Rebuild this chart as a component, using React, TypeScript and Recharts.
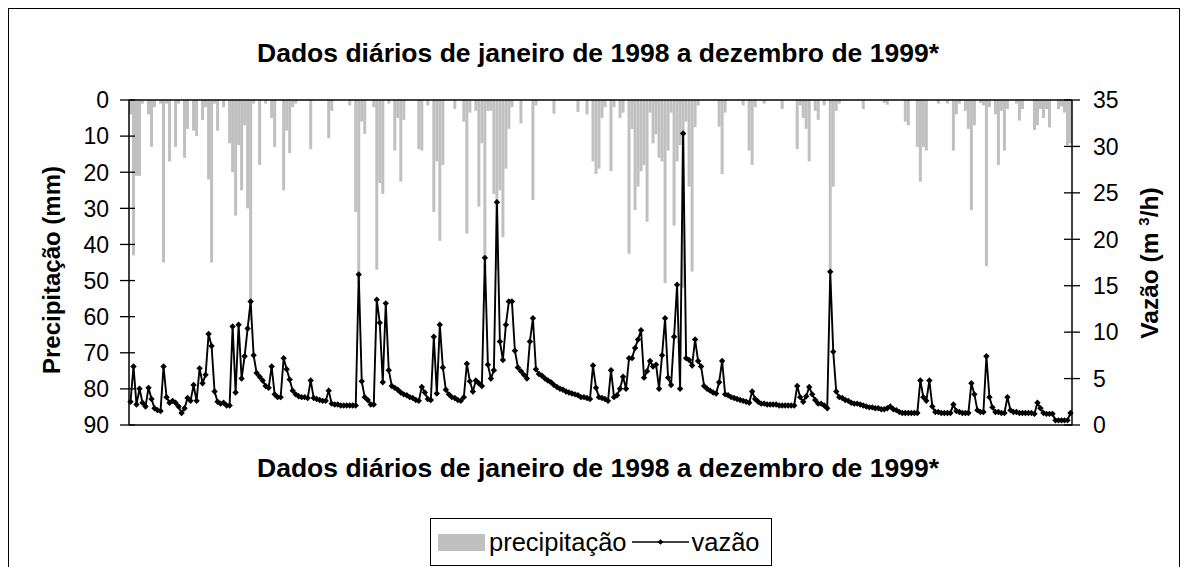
import { Bar, ComposedChart, Line, ReferenceLine, XAxis, YAxis } from "recharts";

// vazão (m3/h), one reading per slot left to right
const vazao = [
  2.5, 6.3, 2.2, 3.9, 2.4, 2.0, 4.0, 2.8, 1.8, 1.6,
  1.5, 6.3, 3.0, 2.4, 2.6, 2.4, 2.0, 1.3, 1.8, 2.9,
  2.6, 4.3, 2.6, 6.1, 4.5, 5.4, 9.8, 8.5, 3.6, 2.5,
  2.3, 2.4, 2.1, 2.1, 10.6, 3.5, 10.8, 5.0, 7.4, 10.4,
  13.3, 7.5, 5.6, 5.2, 4.8, 4.2, 4.0, 6.3, 3.3, 3.0,
  3.0, 7.2, 6.0, 4.9, 3.7, 3.3, 3.1, 3.0, 3.0, 2.9,
  4.8, 2.9, 2.8, 2.7, 2.6, 2.6, 3.7, 2.3, 2.2, 2.2,
  2.1, 2.1, 2.1, 2.1, 2.1, 2.1, 16.2, 4.7, 3.0, 2.7,
  2.2, 2.2, 13.5, 11.0, 4.6, 13.1, 5.9, 4.2, 4.0, 3.8,
  3.5, 3.3, 3.2, 3.0, 2.9, 2.7, 2.6, 4.1, 3.5, 2.8,
  2.7, 9.5, 3.4, 10.8, 6.2, 3.8, 3.3, 3.0, 2.9, 2.7,
  2.6, 3.0, 6.6, 4.7, 3.6, 4.8, 4.5, 4.2, 18.0, 6.5,
  5.0, 5.9, 24.0, 9.0, 7.0, 10.8, 13.3, 13.3, 8.0, 6.2,
  5.8, 5.4, 5.0, 9.0, 11.5, 6.0, 5.5, 5.3, 5.0, 4.8,
  4.6, 4.3, 4.1, 3.9, 3.8, 3.6, 3.5, 3.4, 3.3, 3.2,
  3.0, 3.0, 2.9, 2.8, 6.4, 4.0, 3.0, 2.9, 2.8, 2.6,
  5.9, 3.0, 3.2, 3.9, 5.2, 3.9, 7.2, 7.2, 8.3, 9.2,
  10.2, 5.1, 5.8, 6.9, 6.3, 6.5, 3.9, 7.5, 11.5, 5.1,
  4.3, 9.5, 15.1, 3.9, 31.4, 7.2, 7.0, 6.4, 9.2, 6.9,
  6.3, 4.2, 3.9, 3.7, 3.5, 3.4, 4.6, 6.9, 3.3, 3.2,
  3.0, 2.9, 2.8, 2.7, 2.6, 2.5, 2.4, 3.6, 2.8, 2.5,
  2.3, 2.3, 2.2, 2.2, 2.2, 2.2, 2.1, 2.1, 2.1, 2.1,
  2.1, 2.1, 4.2, 3.0, 2.5, 3.1, 4.1, 3.3, 2.7, 2.3,
  2.3, 2.1, 1.8, 16.5, 7.9, 3.6, 3.0, 2.9, 2.7, 2.6,
  2.4, 2.3, 2.3, 2.2, 2.1, 2.0, 1.9, 1.9, 1.8, 1.8,
  1.7, 1.7, 1.8, 2.0, 1.7, 1.6, 1.4, 1.3, 1.3, 1.3,
  1.3, 1.3, 1.3, 4.8, 3.0, 2.6, 4.8, 2.0, 1.4, 1.4,
  1.3, 1.3, 1.3, 1.3, 2.2, 1.5, 1.4, 1.3, 1.3, 1.3,
  4.5, 3.3, 1.6, 1.4, 1.4, 7.4, 3.0, 1.9, 1.4, 1.4,
  1.3, 1.3, 3.0, 1.6, 1.4, 1.4, 1.3, 1.3, 1.3, 1.3,
  1.3, 1.2, 2.4, 1.8, 1.3, 1.2, 1.2, 1.2, 0.5, 0.5,
  0.5, 0.5, 0.5, 1.3,
];

// precipitação (mm): [slot, mm] for the slots with rain, the rest are dry
const chuva: [number, number][] = [
  [0, 4], [1, 43], [2, 21], [3, 21], [4, 1], [6, 4], [7, 13], [8, 2], [10, 1], [11, 45],
  [12, 1], [13, 17], [15, 13], [16, 1], [18, 16], [19, 8], [21, 8.5], [22, 10], [24, 5.5], [25, 2],
  [26, 22], [27, 45], [28, 1], [29, 8.5], [31, 2], [33, 12], [34, 20], [35, 32], [36, 12.5], [37, 25],
  [38, 7], [39, 30], [40, 61], [41, 1], [43, 18], [45, 1], [47, 5], [48, 13],
  [51, 25], [52, 8.5], [53, 14.7], [54, 2], [55, 1], [60, 13.6], [66, 10.6], [67, 3], [73, 1.5],
  [75, 31], [76, 51], [77, 6], [78, 9.4], [81, 2], [82, 47], [83, 23], [84, 26], [86, 1],
  [88, 14], [89, 5], [90, 22.6], [91, 5.5], [96, 13.6], [97, 14], [99, 1.5],
  [101, 31], [102, 17], [103, 39], [104, 18], [108, 2.5], [111, 6], [112, 37], [113, 3.5], [115, 3],
  [116, 29.5], [117, 12], [118, 46.6], [119, 3], [120, 3], [121, 26], [122, 47], [123, 25], [124, 38],
  [125, 19], [126, 8], [127, 2], [130, 6.5], [134, 27.7], [135, 1.5], [141, 3.8], [149, 3.3], [152, 4],
  [154, 17], [155, 20.5], [156, 19], [157, 5], [158, 2], [160, 19.7], [161, 2], [163, 5], [164, 3.5],
  [166, 42.6], [167, 8], [168, 30.5], [169, 24], [170, 19.7], [171, 18], [172, 33.7], [173, 3.5],
  [174, 12], [175, 9.5], [176, 16], [177, 17], [178, 50.7], [179, 14], [180, 3.5], [181, 34.8],
  [182, 17], [183, 12.5], [184, 52], [185, 6], [186, 24], [187, 47.5], [188, 7.5], [189, 1.5],
  [196, 7.4], [197, 20.5], [198, 3.5], [204, 1.5],
  [206, 14], [207, 18], [208, 2], [211, 1], [217, 2.5], [222, 13.6], [223, 1.5], [224, 5], [225, 8],
  [226, 17], [228, 3], [229, 5.5], [231, 1.5], [233, 47], [234, 24], [235, 3], [236, 1], [244, 2.5],
  [251, 0.8], [252, 1.3],
  [258, 6], [259, 7], [262, 13], [263, 22.6], [264, 13], [265, 14], [269, 1], [272, 1], [274, 14],
  [275, 4], [276, 1], [278, 3], [279, 8], [280, 30.5], [281, 7], [283, 0.8], [284, 1.5], [285, 46],
  [286, 2], [288, 4], [289, 18], [290, 3], [291, 14], [292, 2.5], [295, 1], [296, 5.7], [297, 2.5],
  [301, 8.3], [302, 7], [303, 2.5], [304, 5], [305, 2.5], [306, 7.6], [309, 2.5], [310, 1.8],
  [311, 3.5], [312, 12.5], [313, 12],
];

const precipTicks = [0, 10, 20, 30, 40, 50, 60, 70, 80, 90];
const vazaoTicks = [0, 5, 10, 15, 20, 25, 30, 35];
const titulo = "Dados diários de janeiro de 1998 a dezembro de 1999*";

const chartData = vazao.map((v, i) => ({ dia: i, vazao: v, precipitacao: 0 }));
chuva.forEach(([d, mm]) => {
  chartData[d].precipitacao = mm;
});

const FONT = "'Liberation Sans', Arial, Helvetica, sans-serif";
const W = 1172;
const H = 559;
const LEFT_X = 121; // eixo esquerdo, em coordenadas do gráfico
const RIGHT_X = 1064;

function LeftTick(props: any) {
  const { y, payload } = props;
  return (
    <g>
      <line x1={LEFT_X - 9} x2={LEFT_X + 6} y1={y} y2={y} stroke="#000" strokeWidth={1.3} />
      <text x={LEFT_X - 20} y={y} dy="0.36em" textAnchor="end" fontSize={23} fontFamily={FONT} fill="#000">
        {payload.value}
      </text>
    </g>
  );
}

function RightTick(props: any) {
  const { y, payload } = props;
  return (
    <g>
      <line x1={RIGHT_X - 8} x2={RIGHT_X + 8} y1={y} y2={y} stroke="#000" strokeWidth={1.3} />
      <text x={RIGHT_X + 21} y={y} dy="0.36em" textAnchor="start" fontSize={23} fontFamily={FONT} fill="#000">
        {payload.value}
      </text>
    </g>
  );
}

function Diamond(props: any) {
  const { cx, cy, index } = props;
  if (cx == null || cy == null) return <g key={`d-${index}`} />;
  const r = 3.2;
  return (
    <path
      key={`d-${index}`}
      d={`M${cx},${cy - r}L${cx + r},${cy}L${cx},${cy + r}L${cx - r},${cy}Z`}
      fill="#000"
    />
  );
}

const textBold = {
  position: "absolute" as const,
  fontFamily: FONT,
  fontWeight: 700,
  color: "#000",
  whiteSpace: "nowrap" as const,
  textAlign: "center" as const,
};

export default function App() {
  return (
    <div style={{ position: "relative", width: W, height: H, overflow: "hidden", fontFamily: FONT }}>
      <div
        style={{
          position: "absolute",
          left: 0,
          top: 0,
          width: W - 2,
          height: H + 40,
          border: "1px solid #000",
        }}
      />

      <div style={{ ...textBold, left: 190, top: 30, width: 800, height: 30, lineHeight: "30px", fontSize: 26.5 }}>
        {titulo}
      </div>

      <div
        style={{
          ...textBold,
          left: 44 - 150,
          top: 262 - 15,
          width: 300,
          height: 30,
          lineHeight: "30px",
          fontSize: 24,
          transform: "rotate(-90deg)",
        }}
      >
        Precipitação (mm)
      </div>

      <div
        style={{
          ...textBold,
          left: 1142 - 150,
          top: 255 - 15,
          width: 300,
          height: 30,
          lineHeight: "30px",
          fontSize: 24.5,
          transform: "rotate(-90deg)",
        }}
      >
        Vazão (m <sup style={{ fontSize: 15, verticalAlign: "9px", lineHeight: 0 }}>3</sup>/h)
      </div>

      <div style={{ position: "absolute", left: 0, top: 0 }}>
        <ComposedChart
          width={W}
          height={H}
          data={chartData}
          margin={{ top: 92, right: 0, bottom: 142, left: 0 }}
          barCategoryGap={0}
          barGap={0}
        >
          <XAxis dataKey="dia" hide />
          <YAxis
            yAxisId="left"
            orientation="left"
            width={LEFT_X}
            domain={[0, 90]}
            ticks={precipTicks}
            reversed
            interval={0}
            tickLine={false}
            axisLine={{ stroke: "#000", strokeWidth: 1.5 }}
            tick={<LeftTick />}
          />
          <YAxis
            yAxisId="right"
            orientation="right"
            width={W - RIGHT_X}
            domain={[0, 35]}
            ticks={vazaoTicks}
            interval={0}
            tickLine={false}
            axisLine={{ stroke: "#000", strokeWidth: 1.5 }}
            tick={<RightTick />}
          />
          <Bar
            yAxisId="left"
            dataKey="precipitacao"
            name="precipitação"
            fill="#c0c0c0"
            isAnimationActive={false}
          />
          <ReferenceLine yAxisId="left" y={0} stroke="#000" strokeWidth={1.5} />
          <ReferenceLine yAxisId="left" y={90} stroke="#000" strokeWidth={1.5} />
          <Line
            yAxisId="right"
            type="linear"
            dataKey="vazao"
            name="vazão"
            stroke="#000"
            strokeWidth={1.9}
            dot={Diamond}
            activeDot={false}
            isAnimationActive={false}
          />
        </ComposedChart>
      </div>

      <div style={{ ...textBold, left: 190, top: 445, width: 800, height: 30, lineHeight: "30px", fontSize: 26.5 }}>
        {titulo}
      </div>

      <div
        style={{
          position: "absolute",
          left: 422,
          top: 510,
          width: 340,
          height: 46,
          border: "1px solid #000",
          display: "flex",
          alignItems: "center",
          fontSize: 25.5,
          color: "#000",
        }}
      >
        <span style={{ display: "inline-block", width: 47, height: 17, background: "#c0c0c0", marginLeft: 7 }} />
        <span style={{ marginLeft: 4 }}>precipitação</span>
        <svg width={57} height={12} style={{ marginLeft: 5 }}>
          <line x1={0} x2={57} y1={6} y2={6} stroke="#000" strokeWidth={1.4} />
          <path d="M28.5,3.2L31.3,6L28.5,8.8L25.7,6Z" fill="#000" />
        </svg>
        <span style={{ marginLeft: 3 }}>vazão</span>
      </div>
    </div>
  );
}
